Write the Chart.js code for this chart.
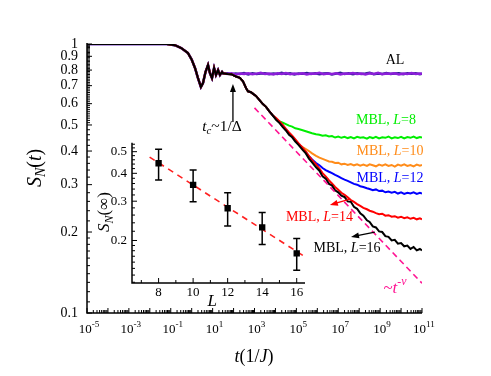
<!DOCTYPE html>
<html><head><meta charset="utf-8">
<script src="https://cdn.jsdelivr.net/npm/chart.js@4.4.1/dist/chart.umd.min.js"></script>
<style>html,body{margin:0;padding:0;background:#fff;}#wrap{position:relative;width:491px;height:376px;}#inset{position:absolute;left:95px;top:130px;}</style>
</head><body><div id="wrap"><canvas id="main" width="491" height="376"></canvas><canvas id="inset" width="220" height="186"></canvas></div>
<script>
const SERIF = '"Liberation Serif", "Times New Roman", serif';
Chart.defaults.font.family = SERIF;

// ---- main panel data (log10 t, S_N) ----
const earlyLogT = [-5,-2,-1.2,-0.8,-0.5,-0.18,0.0,0.16,0.30,0.44,0.54,0.66,0.78,0.87,0.97,1.07,1.16,1.26,1.35,1.45];
const earlyS    = [1,1,0.999,0.99,0.966,0.926,0.875,0.814,0.747,0.692,0.716,0.787,0.835,0.78,0.747,0.814,0.767,0.80,0.767,0.787];

const alLogT = [1.5,1.7,1.9,2.1,2.3,2.5,2.7,2.9,3.1,3.3,3.5,3.7,3.9,4.1,4.3,4.5,4.7,4.9,5.1,5.3,5.5,5.7,5.9,6.1,6.3,6.5,6.7,6.9,7.1,7.3,7.5,7.7,7.9,8.1,8.3,8.5,8.7,8.9,9.1,9.3,9.5,9.7,9.9,10.1,10.3,10.5,10.7,10.9,11];
const alS1 = [0.780,0.774,0.778,0.771,0.777,0.773,0.779,0.772,0.776,0.781,0.773,0.777,0.771,0.778,0.774,0.780,0.772,0.776,0.773,0.779,0.771,0.777,0.775,0.781,0.772,0.776,0.774,0.779,0.770,0.777,0.775,0.780,0.773,0.776,0.771,0.778,0.774,0.781,0.772,0.777,0.775,0.779,0.771,0.776,0.774,0.780,0.773,0.777,0.775];
const alS2 = [0.776,0.779,0.772,0.777,0.774,0.780,0.771,0.778,0.773,0.776,0.779,0.772,0.777,0.774,0.781,0.773,0.778,0.771,0.777,0.775,0.780,0.773,0.778,0.772,0.777,0.779,0.771,0.776,0.781,0.773,0.778,0.772,0.779,0.774,0.777,0.781,0.772,0.776,0.774,0.780,0.773,0.777,0.779,0.772,0.778,0.775,0.779,0.772,0.776];

const trunkLogT = [1.5,1.7,1.9,2.0,2.12,2.3,2.45,2.6,2.69,2.83,2.95,3.07,3.25,3.4,3.55,3.7,3.85];
const trunkS    = [0.778,0.773,0.772,0.765,0.757,0.749,0.726,0.685,0.667,0.662,0.651,0.641,0.617,0.598,0.584,0.563,0.545];

const tailLogT = [4.03,4.2,4.35,4.5,4.65,4.8,4.95,5.1,5.3,5.45,5.6,5.75,5.94,6.1,6.25,6.4,6.56,6.7,6.85,7.0,7.15,7.3,7.45,7.6,7.75,7.9,8.05,8.2,8.37,8.5,8.65,8.8,8.95,9.1,9.25,9.4,9.55,9.7,9.85,10.0,10.15,10.3,10.45,10.6,10.75,10.9,11.0];
const sL16 = [0.523,0.508,0.491,0.477,0.460,0.450,0.434,0.422,0.404,0.392,0.375,0.363,0.348,0.338,0.322,0.316,0.302,0.298,0.286,0.281,0.273,0.270,0.260,0.259,0.248,0.244,0.235,0.230,0.221,0.218,0.210,0.208,0.201,0.200,0.193,0.192,0.186,0.187,0.181,0.182,0.177,0.178,0.173,0.176,0.171,0.173,0.171];
const sL14 = [0.531,0.515,0.500,0.484,0.469,0.456,0.442,0.428,0.411,0.398,0.383,0.370,0.357,0.344,0.331,0.322,0.311,0.303,0.294,0.287,0.280,0.275,0.269,0.263,0.259,0.254,0.250,0.246,0.243,0.240,0.238,0.235,0.233,0.234,0.230,0.231,0.228,0.229,0.226,0.228,0.225,0.227,0.224,0.226,0.223,0.225,0.223];
const sL12 = [0.527,0.510,0.497,0.480,0.465,0.452,0.438,0.425,0.409,0.396,0.383,0.372,0.361,0.354,0.346,0.340,0.335,0.331,0.326,0.322,0.317,0.313,0.310,0.306,0.302,0.300,0.296,0.294,0.291,0.289,0.286,0.288,0.284,0.285,0.281,0.283,0.280,0.282,0.278,0.281,0.277,0.280,0.278,0.281,0.277,0.280,0.278];
const sL10 = [0.526,0.509,0.496,0.479,0.464,0.452,0.438,0.424,0.414,0.407,0.400,0.392,0.384,0.378,0.374,0.370,0.366,0.365,0.361,0.362,0.357,0.359,0.355,0.358,0.354,0.357,0.353,0.356,0.352,0.357,0.354,0.351,0.356,0.353,0.357,0.352,0.355,0.350,0.356,0.353,0.357,0.352,0.355,0.351,0.356,0.353,0.355];
const sL8  = [0.525,0.516,0.510,0.504,0.497,0.493,0.486,0.483,0.478,0.474,0.470,0.466,0.462,0.460,0.456,0.458,0.453,0.455,0.449,0.453,0.448,0.452,0.447,0.451,0.446,0.452,0.448,0.450,0.445,0.451,0.447,0.452,0.446,0.450,0.448,0.453,0.446,0.450,0.447,0.452,0.446,0.451,0.448,0.453,0.447,0.451,0.449];

const powLogT = [3.0, 11.0];
const powS    = [0.579, 0.129];

const yTickVals   = [0.1,0.2,0.3,0.4,0.5,0.6,0.7,0.8,0.9,1];
const yTickLabels = ['0.1','0.2','0.3','0.4','0.5','0.6','0.7','0.8','0.9','1'];
const xTickExps   = [-5,-3,-1,1,3,5,7,9,11];

// ---- inset data ----
const insetL     = [8,10,12,14,16];
const insetS     = [0.444,0.355,0.279,0.229,0.175];
const insetErrHi = [0.513,0.414,0.327,0.267,0.204];
const insetErrLo = [0.373,0.298,0.232,0.192,0.147];
const fitL = [7.48, 16.48];
const fitS = [0.473, 0.169];
const insetYTicks = [0.2,0.3,0.4,0.5];
const insetYLabels = ['0.2','0.3','0.4','0.5'];
const insetXTicks = [8,10,12,14,16];

// ---- helpers ----
const toPts = (lt, s) => lt.map((v, i) => ({x: Math.pow(10, v), y: s[i]}));
const mblPts = tail => toPts(earlyLogT.concat(trunkLogT, tailLogT), earlyS.concat(trunkS, tail));
const alPts = s => toPts(earlyLogT.concat(alLogT), earlyS.concat(s));

function rich(ctx, parts, x, y, fs, color, align) {
  const ps = parts.map(([t, st]) => {
    const small = st.includes('b') || st.includes('p');
    const size = small ? fs * 0.7 : fs;
    const font = (st.includes('i') ? 'italic ' : '') + size + 'px ' + SERIF;
    ctx.font = font;
    return {t, font, w: ctx.measureText(t).width, dy: st.includes('b') ? fs * 0.28 : (st.includes('p') ? -fs * 0.38 : 0)};
  });
  const total = ps.reduce((a, p) => a + p.w, 0);
  let cx = align === 'center' ? x - total / 2 : (align === 'right' ? x - total : x);
  ctx.fillStyle = color; ctx.textBaseline = 'middle'; ctx.textAlign = 'left';
  for (const p of ps) { ctx.font = p.font; ctx.fillText(p.t, cx, y + p.dy); cx += p.w; }
}
function arrow(ctx, x1, y1, x2, y2, color) {
  const a = Math.atan2(y2 - y1, x2 - x1), hl = 8, hw = 3;
  ctx.strokeStyle = color; ctx.fillStyle = color; ctx.lineWidth = 1.3;
  ctx.beginPath(); ctx.moveTo(x1, y1); ctx.lineTo(x2 - hl * 0.8 * Math.cos(a), y2 - hl * 0.8 * Math.sin(a)); ctx.stroke();
  ctx.beginPath(); ctx.moveTo(x2, y2);
  ctx.lineTo(x2 - hl * Math.cos(a) + hw * Math.sin(a), y2 - hl * Math.sin(a) - hw * Math.cos(a));
  ctx.lineTo(x2 - hl * Math.cos(a) - hw * Math.sin(a), y2 - hl * Math.sin(a) + hw * Math.cos(a));
  ctx.closePath(); ctx.fill();
}
function minorList(ranges) {
  const out = [];
  ranges.forEach(([a, b, st]) => { for (let v = a; v <= b + 1e-9; v += st) out.push(Math.round(v * 1000) / 1000); });
  return out;
}

const GREEN = '#00ee00', ORANGE = '#ff8c1a', BLUE = '#0000ff', RED = '#ff0000', PINK = '#ff1493';

const mainDeco = {
  id: 'mainDeco',
  afterDatasetsDraw(chart) {
    const {ctx, chartArea: a, scales: {x, y}} = chart;
    const X = lt => x.getPixelForValue(Math.pow(10, lt));
    const Y = s => y.getPixelForValue(s);
    ctx.save();
    ctx.strokeStyle = '#000'; ctx.lineWidth = 1.5;
    ctx.beginPath(); ctx.moveTo(a.left, a.top - 1); ctx.lineTo(a.left, a.bottom); ctx.lineTo(a.right, a.bottom); ctx.stroke();
    ctx.lineWidth = 1;
    ctx.beginPath();
    yTickVals.forEach(v => { const p = Y(v); ctx.moveTo(a.left, p); ctx.lineTo(a.left + 5, p); });
    const yMinor = minorList([[0.11, 0.19, 0.01], [0.22, 0.28, 0.02], [0.32, 0.38, 0.02], [0.42, 0.48, 0.02], [0.51, 0.99, 0.01]]);
    yMinor.forEach(v => { const p = Y(v); ctx.moveTo(a.left, p); ctx.lineTo(a.left + 3, p); });
    for (let e = -5; e <= 11; e++) {
      const p = x.getPixelForValue(Math.pow(10, e));
      ctx.moveTo(p, a.bottom); ctx.lineTo(p, a.bottom - 5);
      if (e < 11) for (let k = 2; k <= 9; k++) { const q = x.getPixelForValue(k * Math.pow(10, e)); ctx.moveTo(q, a.bottom); ctx.lineTo(q, a.bottom - 3); }
    }
    ctx.stroke();
    xTickExps.forEach(e => { rich(ctx, [['10', ''], [String(e), 'p']], x.getPixelForValue(Math.pow(10, e)) + 2, a.bottom + 17, 13, '#000', 'center'); });

    // axis titles
    ctx.save(); ctx.translate(36, 168); ctx.rotate(-Math.PI / 2);
    rich(ctx, [['S', 'i'], ['N', 'ib'], ['(', ''], ['t', 'i'], [')', '']], 0, 0, 20, '#000', 'center');
    ctx.restore();
    rich(ctx, [['t', 'i'], ['(1/', ''], ['J', 'i'], [')', '']], 254, 357, 18, '#000', 'center');

    // annotations
    rich(ctx, [['AL', '']], X(9.71), Y(0.872), 14, '#000', 'center');
    rich(ctx, [['MBL, ', ''], ['L', 'i'], ['=8', '']], X(9.28), Y(0.522), 14, GREEN, 'center');
    rich(ctx, [['MBL, ', ''], ['L', 'i'], ['=10', '']], X(9.47), Y(0.400), 14, ORANGE, 'center');
    rich(ctx, [['MBL, ', ''], ['L', 'i'], ['=12', '']], X(9.47), Y(0.318), 14, BLUE, 'center');
    rich(ctx, [['MBL, ', ''], ['L', 'i'], ['=14', '']], X(6.10), Y(0.227), 14, RED, 'center');
    rich(ctx, [['MBL, ', ''], ['L', 'i'], ['=16', '']], X(7.42), Y(0.174), 14, '#000', 'center');
    rich(ctx, [['t', 'i'], ['c', 'ib'], ['~1/Δ', '']], X(1.447), Y(0.491), 15.5, '#000', 'center');
    rich(ctx, [['~', ''], ['t', 'i'], ['-ν', 'ip']], X(9.71), Y(0.123), 17, PINK, 'center');
    arrow(ctx, X(1.97), Y(0.513), X(1.97), Y(0.710), '#000');
    arrow(ctx, X(7.56), Y(0.265), X(6.60), Y(0.252), RED);
    arrow(ctx, X(8.75), Y(0.200), X(7.61), Y(0.1916), '#000');
    ctx.restore();
  }
};

new Chart(document.getElementById('main'), {
  type: 'line',
  data: { datasets: [
    {data: toPts(powLogT, powS), borderColor: PINK, borderWidth: 1.6, borderDash: [6, 4]},
    {data: mblPts(sL16), borderColor: '#000', borderWidth: 2},
    {data: mblPts(sL14), borderColor: RED, borderWidth: 2},
    {data: mblPts(sL12), borderColor: BLUE, borderWidth: 2},
    {data: mblPts(sL10), borderColor: ORANGE, borderWidth: 2},
    {data: mblPts(sL8), borderColor: GREEN, borderWidth: 2},
    {data: alPts(alS1), borderColor: '#8c1fd9', borderWidth: 2.5},
    {data: alPts(alS2), borderColor: '#2a2090', borderWidth: 2.5}
  ]},
  options: {
    responsive: false, animation: false, devicePixelRatio: 1,
    elements: {point: {radius: 0}, line: {tension: 0, fill: false}},
    layout: {padding: {left: 0, right: 69, top: 44, bottom: 0}},
    plugins: {legend: {display: false}, tooltip: {enabled: false}},
    scales: {
      x: {type: 'logarithmic', min: 1e-5, max: 1e11, afterFit(s) { s.height = 63; },
          ticks: {display: false}, grid: {display: false, drawTicks: false}, border: {display: false}},
      y: {type: 'logarithmic', min: 0.1, max: 1, afterFit(s) { s.width = 87; },
          afterBuildTicks(s) { s.ticks = yTickVals.map(v => ({value: v})); },
          ticks: {callback: (v, i) => yTickLabels[i], font: {family: SERIF, size: 14}, color: '#000', padding: 9, autoSkip: false},
          grid: {display: false, drawTicks: false}, border: {display: false}}
    }
  },
  plugins: [mainDeco]
});

const insetDeco = {
  id: 'insetDeco',
  beforeDatasetsDraw(chart) {
    const {ctx, scales: {x, y}} = chart;
    ctx.save(); ctx.strokeStyle = '#000'; ctx.lineWidth = 1.5;
    insetL.forEach((L, i) => {
      const px = x.getPixelForValue(L), t = y.getPixelForValue(insetErrHi[i]), b = y.getPixelForValue(insetErrLo[i]);
      ctx.beginPath(); ctx.moveTo(px, t); ctx.lineTo(px, b);
      ctx.moveTo(px - 3.5, t); ctx.lineTo(px + 3.5, t); ctx.moveTo(px - 3.5, b); ctx.lineTo(px + 3.5, b); ctx.stroke();
    });
    ctx.restore();
  },
  afterDraw(chart) {
    const {ctx, chartArea: a, scales: {x, y}} = chart;
    ctx.save(); ctx.strokeStyle = '#000'; ctx.lineWidth = 1.5;
    ctx.beginPath(); ctx.moveTo(a.left, a.top); ctx.lineTo(a.left, a.bottom); ctx.lineTo(a.right, a.bottom); ctx.stroke();
    ctx.lineWidth = 1; ctx.beginPath();
    insetYTicks.forEach(v => { const p = y.getPixelForValue(v); ctx.moveTo(a.left, p); ctx.lineTo(a.left + 5, p); });
    minorList([[0.13, 0.19, 0.01], [0.22, 0.28, 0.02], [0.32, 0.38, 0.02], [0.42, 0.48, 0.02], [0.52, 0.54, 0.02]]).forEach(v => { const p = y.getPixelForValue(v); ctx.moveTo(a.left, p); ctx.lineTo(a.left + 3, p); });
    for (let L = 7; L <= 16; L++) { const p = x.getPixelForValue(L); ctx.moveTo(p, a.bottom); ctx.lineTo(p, a.bottom - (L % 2 === 0 ? 5 : 3)); }
    ctx.stroke();
    ctx.save(); ctx.translate(10, 82); ctx.rotate(-Math.PI / 2);
    rich(ctx, [['S', 'i'], ['N', 'ib'], ['(∞)', '']], 0, 0, 17, '#000', 'center');
    ctx.restore();
    rich(ctx, [['L', 'i']], x.getPixelForValue(11.1), 172, 17, '#000', 'center');
    ctx.restore();
  }
};

new Chart(document.getElementById('inset'), {
  type: 'line',
  data: { datasets: [
    {data: insetL.map((L, i) => ({x: L, y: insetS[i]})), showLine: false, pointStyle: 'rect', pointRadius: 4.5, backgroundColor: '#000', borderColor: '#000', borderWidth: 0},
    {data: fitL.map((L, i) => ({x: L, y: fitS[i]})), borderColor: '#ff2020', borderWidth: 1.6, borderDash: [6, 5], pointRadius: 0}
  ]},
  options: {
    responsive: false, animation: false, devicePixelRatio: 1,
    elements: {line: {tension: 0, fill: false}},
    layout: {padding: {left: 0, right: 10, top: 12, bottom: 0}},
    plugins: {legend: {display: false}, tooltip: {enabled: false}},
    scales: {
      x: {type: 'linear', min: 6.46, max: 16.48, afterFit(s) { s.height = 33; },
          afterBuildTicks(s) { s.ticks = insetXTicks.map(v => ({value: v})); },
          ticks: {font: {family: SERIF, size: 13}, color: '#000', padding: 1.5, autoSkip: false, maxRotation: 0},
          grid: {display: false, drawTicks: false}, border: {display: false}},
      y: {type: 'logarithmic', min: 0.129, max: 0.548, afterFit(s) { s.width = 37; },
          afterBuildTicks(s) { s.ticks = insetYTicks.map(v => ({value: v})); },
          ticks: {callback: (v, i) => insetYLabels[i], font: {family: SERIF, size: 13}, color: '#000', padding: 5, autoSkip: false},
          grid: {display: false, drawTicks: false}, border: {display: false}}
    }
  },
  plugins: [insetDeco]
});
</script></body></html>
